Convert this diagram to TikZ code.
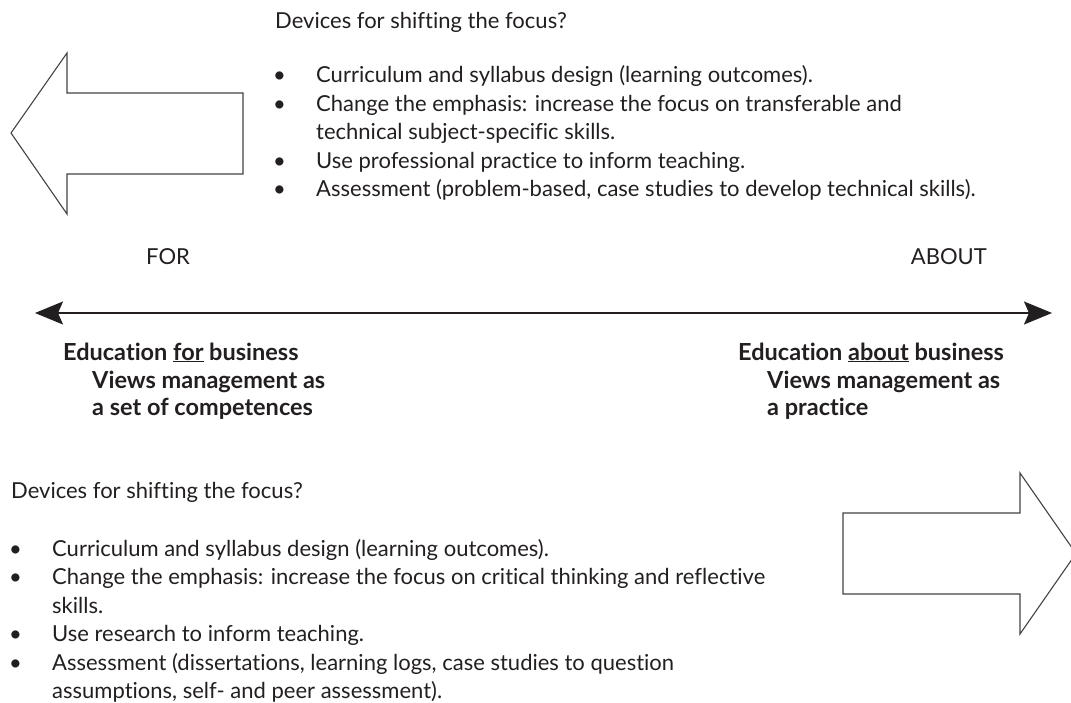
\documentclass[tikz,border=0pt]{standalone}
\usepackage{fontspec}
\setmainfont{Lato}[Ligatures=NoCommon]
\usepackage{xcolor}
\usetikzlibrary{arrows.meta}

\definecolor{ink}{HTML}{231F20}
\tikzset{
	txt/.style={anchor=base west, inner sep=0pt, text=ink, font=\fontsize{22}{28.5}\selectfont},
	btxt/.style={anchor=base west, inner sep=0pt, text=ink, font=\fontsize{23.5}{28}\selectfont\bfseries},
	bigarrow/.style={draw=ink!85, line width=1.1pt, fill=white},
	axis/.style={line width=1.6pt, draw=ink, {Stealth[length=28pt,width=23pt,inset=5pt]}-{Stealth[length=28pt,width=23pt,inset=5pt]}},
}
\newcommand{\bul}{\hspace*{-2pt}\textbullet}

\begin{document}
\begin{tikzpicture}[x=1pt,y=-1pt]
	\useasboundingbox (0,0) rectangle (1071,703);
	% block arrows
	\draw[bigarrow] (11,133) -- (67,53) -- (67,93) -- (243,93) -- (243,174) -- (67,174) -- (67,214) -- cycle;
	\draw[bigarrow] (843,513) -- (1020,513) -- (1020,473) -- (1076,553.5) -- (1020,634) -- (1020,594) -- (843,594) -- cycle;

	% the for / about axis
	\coordinate (forEnd) at (35,313);
	\coordinate (aboutEnd) at (1052,313);
	\draw[axis] (forEnd) -- (aboutEnd);
	\node[txt] (forLbl) at (146,265) {FOR};
	\node[txt, anchor=base east] (aboutLbl) at (987,265) {ABOUT};

	\node[btxt] (forTitle) at (63,360) {Education \underline{for} business};
	\node[btxt] (forSub) at (92,388) {\begin{tabular}[t]{@{}l@{}}Views management as\\a set of competences\end{tabular}};
	\node[btxt] (aboutTitle) at (738,360) {Education \underline{about} business};
	\node[btxt] (aboutSub) at (767,388) {\begin{tabular}[t]{@{}l@{}}Views management as\\a practice\end{tabular}};

	% devices, top
	\node[txt] (topHead) at (275,29) {Devices for shifting the focus?};
	\node[txt] (topList) at (275,83) {\begin{tabular}[t]{@{}p{41pt}@{}l@{}}
		\bul & Curriculum and syllabus design (learning outcomes).\\
		\bul & Change the emphasis: increase the focus on transferable and\\
		& technical subject-specific skills.\\
		\bul & Use professional practice to inform teaching.\\
		\bul & Assessment (problem-based, case studies to develop technical skills).
	\end{tabular}};

	% devices, bottom
	\node[txt] (botHead) at (11,498) {Devices for shifting the focus?};
	\node[txt] (botList) at (11,556) {\begin{tabular}[t]{@{}p{41pt}@{}l@{}}
		\bul & Curriculum and syllabus design (learning outcomes).\\
		\bul & Change the emphasis: increase the focus on critical thinking and reflective\\
		& skills.\\
		\bul & Use research to inform teaching.\\
		\bul & Assessment (dissertations, learning logs, case studies to question\\
		& assumptions, self- and peer assessment).
	\end{tabular}};
\end{tikzpicture}
\end{document}
